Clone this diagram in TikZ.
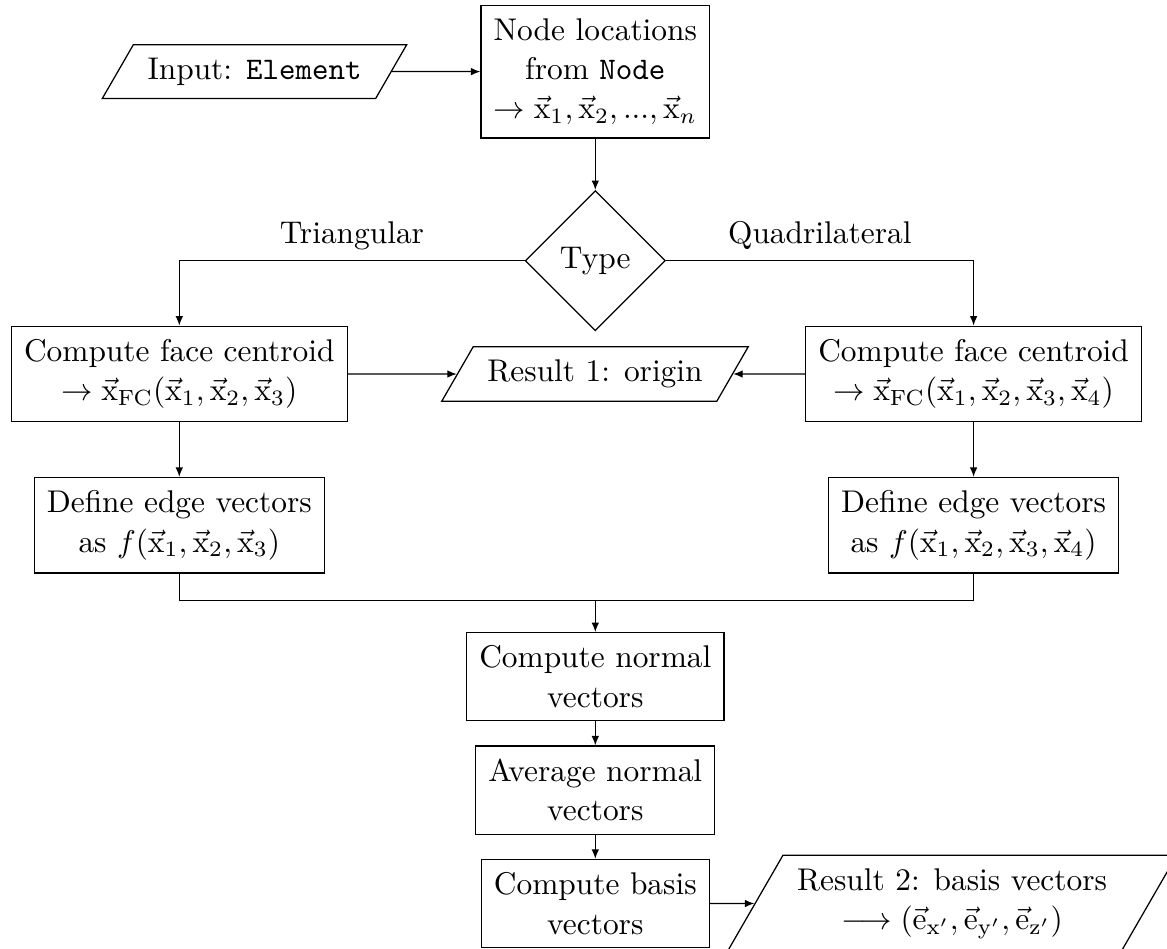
\documentclass[tikz,border=0pt]{standalone}
\usetikzlibrary{shapes.geometric,arrows.meta}
\newcommand{\vecx}{\vec{\mathrm{x}}}
\newcommand{\vece}{\vec{\mathrm{e}}}
\begin{document}
\begin{tikzpicture}[x=0.3185pt,y=-0.3185pt,
  box/.style={draw, rectangle, align=center, inner xsep=4pt, inner ysep=4.2pt,
    font=\fontsize{10}{12.5}\selectfont},
  io/.style={draw, trapezium, trapezium left angle=60, trapezium right angle=120,
    align=center, inner xsep=4.5pt, inner ysep=4.2pt,
    font=\fontsize{10}{12.5}\selectfont},
  decision/.style={draw, diamond, aspect=1, inner sep=3.33pt},
  flow/.style={-{Latex[length=3pt,width=2.4pt]}},
]
\useasboundingbox (0,0) rectangle (1167,948);

% nodes
\node[io]  (input)   at (254.5,71.6) {Input: \texttt{Element}};
\node[box] (nodeloc) at (595.3,71.6) {Node locations\\ from \texttt{Node}\\
  $\rightarrow \vecx_1, \vecx_2, ..., \vecx_n$};
\node[decision] (type) at (595.3,260.7) {Type};
\node[box] (cfl) at (179.3,374) {Compute face centroid\\
  $\rightarrow \vecx_{\mathrm{FC}}(\vecx_1, \vecx_2, \vecx_3)$};
\node[box] (cfr) at (973.6,374) {Compute face centroid\\
  $\rightarrow \vecx_{\mathrm{FC}}(\vecx_1, \vecx_2, \vecx_3, \vecx_4)$};
\node[io]  (res1) at (595,374) {Result 1: origin};
\node[box] (dfl) at (179.3,525.3) {Define edge vectors\\
  as $f(\vecx_1, \vecx_2, \vecx_3)$};
\node[box] (dfr) at (973.6,525.3) {Define edge vectors\\
  as $f(\vecx_1, \vecx_2, \vecx_3, \vecx_4)$};
\coordinate (merge) at (595.3,600.7);
\node[box] (cn)  at (595.3,676.7) {Compute normal\\ vectors};
\node[box] (avg) at (595.3,790.2) {Average normal\\ vectors};
\node[box] (cb)  at (595.3,903.5) {Compute basis\\ vectors};
\node[io]  (res2) at (952,903.5) {Result 2: basis vectors\\
  $\longrightarrow (\vece_{\mathrm{x}'}, \vece_{\mathrm{y}'}, \vece_{\mathrm{z}'})$};

% connectors
\draw[flow] (input.east) -- (nodeloc.west);
\draw[flow] (nodeloc.south) -- (type.north);
\draw[flow] (type.west) -| node[pos=0.25, above] {Triangular} (cfl.north);
\draw[flow] (type.east) -| node[pos=0.25, above] {Quadrilateral} (cfr.north);
\draw[flow] (cfl.east) -- (res1.west);
\draw[flow] (cfr.west) -- (res1.east);
\draw[flow] (cfl.south) -- (dfl.north);
\draw[flow] (cfr.south) -- (dfr.north);
\draw (dfl.south) |- (merge) -| (dfr.south);
\draw[flow] (merge) -- (cn.north);
\draw[flow] (cn.south) -- (avg.north);
\draw[flow] (avg.south) -- (cb.north);
\draw[flow] (cb.east) -- (res2.west);
\end{tikzpicture}
\end{document}
